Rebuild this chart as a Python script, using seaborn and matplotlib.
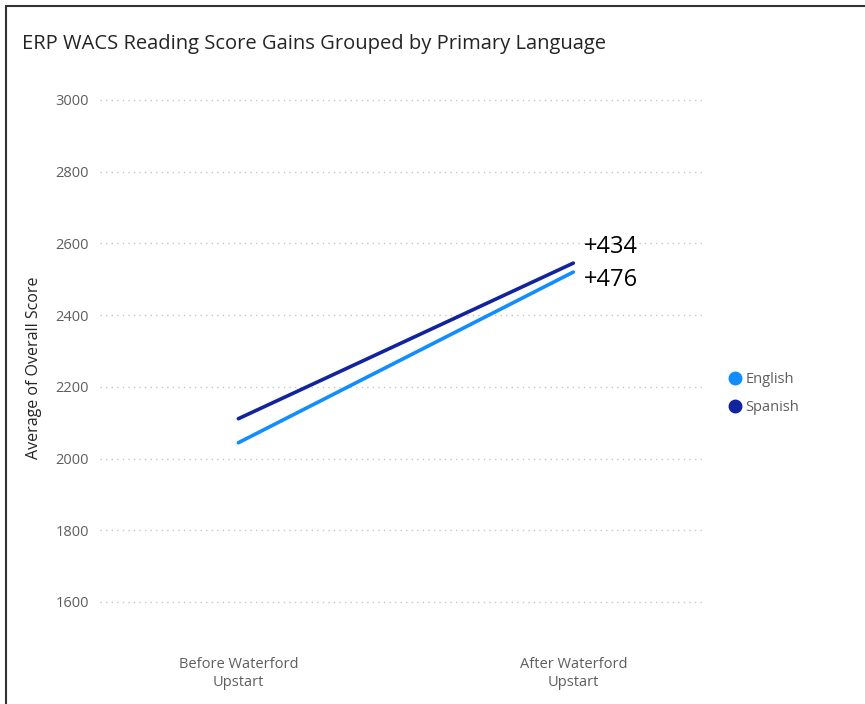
import pandas as pd
import matplotlib.pyplot as plt
import seaborn as sns
from matplotlib.lines import Line2D

periods = ["Before Waterford\nUpstart", "After Waterford\nUpstart"]
languages = ["English", "Spanish"]
english_scores = [2044, 2520]
spanish_scores = [2111, 2545]
gain_labels = ["+434", "+476"]
colors = {"English": "#118DFF", "Spanish": "#12239E"}

rows = []
for lang, scores in zip(languages, [english_scores, spanish_scores]):
    for i, (p, s) in enumerate(zip(periods, scores)):
        rows.append({"period": p, "pos": i, "language": lang, "score": s})
df = pd.DataFrame(rows)

sns.set_style("white")
plt.rcParams["font.family"] = ["Open Sans", "DejaVu Sans"]
grey = "#605E5C"

fig = plt.figure(figsize=(8.65, 7.04), dpi=100)
ax = fig.add_axes([0.116, 0.145, 0.699, 0.713])

sns.lineplot(data=df, x="pos", y="score", hue="language", palette=colors,
             linewidth=2.6, ax=ax, legend=False)

ax.set_ylim(1600, 3000)
ax.set_xlim(-0.412, 1.393)
ax.set_yticks(range(1600, 3001, 200))
ax.set_xticks([0, 1])
ax.set_xticklabels(periods)
ax.tick_params(axis="y", labelsize=10.5, colors=grey, length=0, pad=8)
ax.tick_params(axis="x", labelsize=10.5, colors=grey, length=0, pad=40)
ax.yaxis.grid(True, linestyle=(0, (1, 3)), color="#C8C6C4", linewidth=1)
for gl in ax.get_ygridlines():
    gl.set_clip_on(False)
ax.set_axisbelow(True)
for s in ax.spines.values():
    s.set_visible(False)
ax.set_xlabel("")
ax.set_ylabel("Average of Overall Score", fontsize=11.5, color="#252423")
ax.yaxis.set_label_coords(-0.097, 0.466)

# gain annotations
ax.text(1.03, 2589, gain_labels[0], fontsize=17, color="black", va="center", ha="left")
ax.text(1.03, 2497, gain_labels[1], fontsize=17, color="black", va="center", ha="left")

handles = [Line2D([], [], marker="o", linestyle="", markersize=9,
                  markerfacecolor=colors[l], markeredgecolor=colors[l]) for l in languages]
leg = fig.legend(handles, languages, loc="center left", bbox_to_anchor=(0.818, 0.441),
                 frameon=False, handletextpad=-0.3, labelspacing=0.95, fontsize=10.5)
for t in leg.get_texts():
    t.set_color(grey)

fig.text(0.025, 0.938, "ERP WACS Reading Score Gains Grouped by Primary Language",
         fontsize=14.5, color="#252423", va="center", ha="left")

# report frame
fig.add_artist(Line2D([0.007, 0.007], [0, 0.992], color="#333333", linewidth=1.5,
                      transform=fig.transFigure))
fig.add_artist(Line2D([0.007, 1], [0.992, 0.992], color="#333333", linewidth=1.5,
                      transform=fig.transFigure))

fig.savefig("out.png", dpi=100)
